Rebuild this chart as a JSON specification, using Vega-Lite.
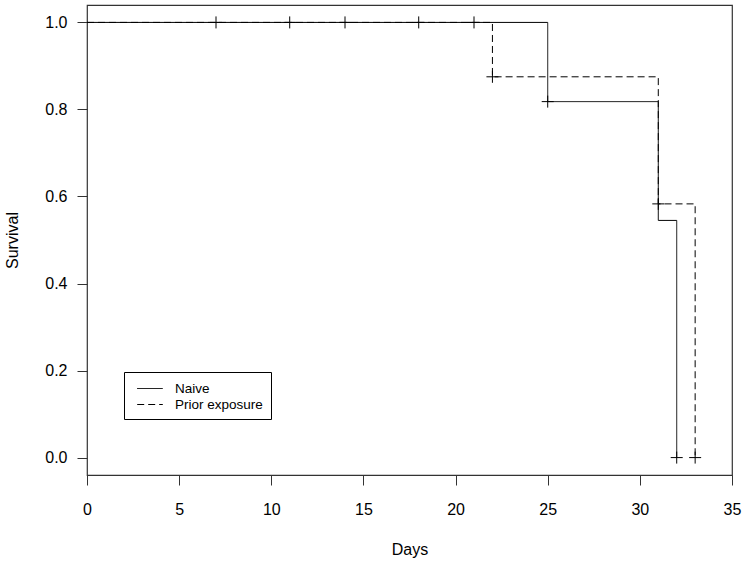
{
  "$schema": "https://vega.github.io/schema/vega-lite/v6.json",
  "width": 645,
  "height": 470,
  "autosize": {"type": "none"},
  "padding": {"left": 87, "top": 5, "right": 14, "bottom": 93},
  "background": "white",
  "config": {
    "view": {"stroke": "#333", "strokeWidth": 1.2},
    "font": "Liberation Sans",
    "axis": {
      "grid": false,
      "domain": false,
      "labelFlush": false,
      "labelOverlap": false,
      "tickColor": "#333",
      "tickSize": 10,
      "labelFontSize": 16,
      "titleFontSize": 16,
      "labelColor": "#000",
      "titleColor": "#000",
      "titleFontWeight": "normal",
      "labelFont": "Liberation Sans",
      "titleFont": "Liberation Sans"
    },
    "legend": {
      "orient": "none",
      "legendX": 37,
      "legendY": 367,
      "strokeColor": "#000",
      "padding": 8,
      "symbolType": "M-1.6,0L1.6,0",
      "symbolSize": 256,
      "symbolOffset": 9.5,
      "symbolStrokeWidth": 1,
      "symbolStrokeColor": "#000",
      "symbolFillColor": "transparent",
      "labelFontSize": 13.5,
      "labelColor": "#000",
      "labelFont": "Liberation Sans",
      "labelOffset": 16.5,
      "rowPadding": 1
    }
  },
  "datasets": {
    "curves": [
      {"group": "Naive", "day": 0, "surv": 1.0},
      {"group": "Naive", "day": 25, "surv": 0.818},
      {"group": "Naive", "day": 31, "surv": 0.545},
      {"group": "Naive", "day": 32, "surv": 0.0},
      {"group": "Prior exposure", "day": 0, "surv": 1.0},
      {"group": "Prior exposure", "day": 22, "surv": 0.875},
      {"group": "Prior exposure", "day": 31, "surv": 0.583},
      {"group": "Prior exposure", "day": 33, "surv": 0.0}
    ],
    "censor": [
      {"group": "Naive", "day": 7, "surv": 1.0},
      {"group": "Naive", "day": 11, "surv": 1.0},
      {"group": "Naive", "day": 14, "surv": 1.0},
      {"group": "Naive", "day": 18, "surv": 1.0},
      {"group": "Naive", "day": 21, "surv": 1.0},
      {"group": "Naive", "day": 25, "surv": 0.818},
      {"group": "Naive", "day": 32, "surv": 0.0},
      {"group": "Prior exposure", "day": 22, "surv": 0.875},
      {"group": "Prior exposure", "day": 31, "surv": 0.583},
      {"group": "Prior exposure", "day": 33, "surv": 0.0}
    ]
  },
  "layer": [
    {
      "data": {"name": "curves"},
      "mark": {"type": "line", "interpolate": "step-after", "color": "#000", "strokeWidth": 1},
      "encoding": {
        "x": {
          "field": "day",
          "type": "quantitative",
          "scale": {"domain": [0, 35], "nice": false, "zero": false},
          "axis": {"values": [0, 5, 10, 15, 20, 25, 30, 35], "title": "Days", "labelPadding": 16, "titlePadding": 24}
        },
        "y": {
          "field": "surv",
          "type": "quantitative",
          "scale": {"domain": [-0.04, 1.04], "nice": false, "zero": false},
          "axis": {"values": [0, 0.2, 0.4, 0.6, 0.8, 1.0], "format": ".1f", "title": "Survival", "labelAngle": 0, "labelPadding": 10, "titlePadding": 24}
        },
        "strokeDash": {
          "field": "group",
          "type": "nominal",
          "scale": {"domain": ["Naive", "Prior exposure"], "range": [[1, 0], [7, 4]]},
          "legend": {"title": null}
        }
      }
    },
    {
      "data": {"name": "censor"},
      "mark": {"type": "point", "shape": "M-1,0L1,0M0,-1L0,1", "size": 144, "stroke": "#000", "strokeWidth": 1, "filled": false, "opacity": 1},
      "encoding": {
        "x": {"field": "day", "type": "quantitative"},
        "y": {"field": "surv", "type": "quantitative"}
      }
    }
  ]
}
